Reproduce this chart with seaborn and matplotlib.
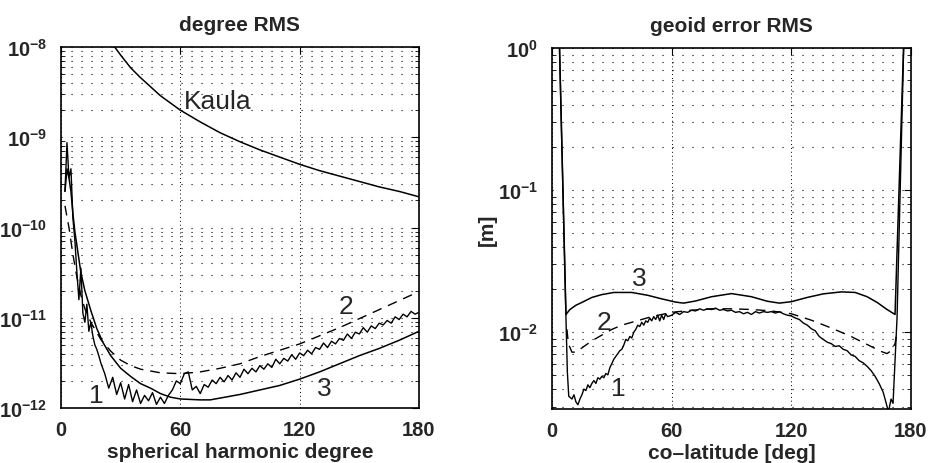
import numpy as np
import pandas as pd
import matplotlib
matplotlib.use("Agg")
import matplotlib.pyplot as plt
import seaborn as sns

# ---------------- left panel: degree RMS (values stored as log10) ----------------
kaula_deg = [26, 30, 35, 40, 50, 60, 70, 80, 90, 100, 110, 120, 130, 140, 150, 160, 170, 180]
kaula_log = [-7.97, -8.09, -8.23, -8.34, -8.54, -8.70, -8.83, -8.95, -9.05, -9.14,
             -9.22, -9.30, -9.37, -9.43, -9.49, -9.55, -9.60, -9.66]

c1_deg = list(range(2, 21)) + list(range(22, 181, 2))
c1_log = [-9.60, -9.06, -9.45, -9.35, -9.90, -10.15, -10.50, -10.80, -10.45, -10.95,
          -11.05, -10.85, -11.15, -11.05, -11.20, -11.30, -11.35, -11.42, -11.50,
          -11.62, -11.78, -11.66, -11.85, -11.72, -11.90, -11.74, -11.93, -11.80, -11.95,
          -11.86, -11.92, -11.83, -11.96, -11.88, -11.95, -11.86, -11.80, -11.70, -11.73,
          -11.62, -11.60, -11.80, -11.76, -11.84, -11.74, -11.77, -11.69, -11.73, -11.66,
          -11.71, -11.64, -11.69, -11.61, -11.66, -11.57, -11.62, -11.56, -11.60, -11.53,
          -11.57, -11.51, -11.55, -11.46, -11.51, -11.45, -11.48, -11.41, -11.46, -11.39,
          -11.42, -11.36, -11.40, -11.33, -11.35, -11.28, -11.33, -11.26, -11.29, -11.23,
          -11.25, -11.18, -11.23, -11.16, -11.18, -11.11, -11.16, -11.09, -11.12, -11.06,
          -11.08, -11.03, -11.06, -10.99, -11.02, -10.96, -10.99, -10.93, -10.96, -10.94]

c2_deg = [2, 4, 6, 8, 10, 12, 15, 20, 25, 30, 35, 40, 50, 60, 70, 80, 90, 100, 110,
          120, 130, 140, 150, 160, 170, 180]
c2_log = [-9.76, -10.00, -10.30, -10.55, -10.75, -10.90, -11.05, -11.24, -11.37, -11.47,
          -11.53, -11.57, -11.61, -11.62, -11.60, -11.56, -11.51, -11.43, -11.36, -11.29,
          -11.20, -11.11, -11.01, -10.91, -10.81, -10.71]

c3_deg = [2, 3, 4, 5, 6, 7, 8, 10, 12, 15, 18, 21, 25, 30, 35, 40, 45, 50, 55, 60, 70,
          75, 80, 90, 100, 110, 120, 130, 140, 150, 160, 170, 180]
c3_log = [-9.60, -9.35, -9.45, -9.60, -9.85, -10.05, -10.20, -10.50, -10.70, -10.92,
          -11.12, -11.27, -11.42, -11.56, -11.65, -11.73, -11.78, -11.84, -11.88, -11.90,
          -11.91, -11.91, -11.89, -11.85, -11.80, -11.75, -11.68, -11.60, -11.51, -11.42,
          -11.34, -11.25, -11.15]

# ---------------- right panel: geoid error RMS (log10 of metres) ----------------
g1_deg = [3.6, 7.0, 7.7, 8.4, 10, 11, 12, 13, 14, 15, 16, 17, 18, 19, 20, 21, 22, 23,
          24, 25, 26, 27, 28, 29, 30, 31, 32, 33, 34, 35, 36, 37, 38, 39, 40, 41, 42, 43,
          44, 45, 46, 47, 48, 49, 50, 51, 52, 53, 54, 55, 56, 57, 58, 60, 62, 64, 66, 68,
          70, 72, 74, 76, 78, 80, 82, 84, 86, 88, 90, 92, 94, 96, 98, 100, 102, 104, 106,
          108, 110, 112, 114, 116, 118, 120, 122, 124, 126, 128, 130, 132, 134, 136, 138,
          140, 142, 144, 146, 148, 150, 152, 154, 156, 158, 160, 162, 164, 166, 167,
          168.7, 170, 171, 172, 173, 176.5]
g1_log = [0.10, -1.90, -2.28, -2.45, -2.47, -2.44, -2.49, -2.51, -2.47, -2.44, -2.40,
          -2.41, -2.37, -2.39, -2.36, -2.34, -2.36, -2.32, -2.33, -2.31, -2.32, -2.29,
          -2.30, -2.25, -2.22, -2.19, -2.17, -2.15, -2.13, -2.12, -2.09, -2.05, -2.06,
          -2.03, -2.04, -2.00, -1.98, -1.95, -1.96, -1.93, -1.95, -1.92, -1.93, -1.90,
          -1.92, -1.89, -1.91, -1.88, -1.92, -1.88, -1.91, -1.87, -1.89, -1.88, -1.86,
          -1.875, -1.855, -1.86, -1.845, -1.85, -1.835, -1.845, -1.835, -1.84, -1.83,
          -1.845, -1.84, -1.85, -1.845, -1.86, -1.855, -1.87, -1.86, -1.875, -1.855,
          -1.865, -1.855, -1.86, -1.855, -1.865, -1.855, -1.87, -1.88, -1.885, -1.90,
          -1.91, -1.935, -1.95, -1.975, -1.99, -2.03, -2.05, -2.07, -2.08, -2.10, -2.095,
          -2.12, -2.13, -2.16, -2.17, -2.20, -2.215, -2.24, -2.27, -2.31, -2.36, -2.42,
          -2.47, -2.56, -2.47, -2.50, -2.20, -1.90, 0.10]

g2_deg = [7.5, 8.2, 10, 12, 16, 20, 25, 30, 35, 40, 50, 60, 70, 80, 90, 100, 110, 120,
          130, 140, 150, 160, 165, 168, 170, 172, 173]
g2_log = [-1.98, -2.08, -2.14, -2.14, -2.10, -2.06, -2.02, -1.98, -1.95, -1.93, -1.89,
          -1.86, -1.845, -1.835, -1.835, -1.84, -1.85, -1.87, -1.915, -1.97, -2.03,
          -2.10, -2.135, -2.15, -2.13, -2.08, -2.00]

g3_deg = [3.6, 7, 9, 12, 15, 20, 25, 31, 40, 48, 55, 62, 66, 72, 80, 90, 100, 108, 114,
          120, 128, 136, 145, 152, 158, 163, 168, 172, 176.5]
g3_log = [0.10, -1.875, -1.84, -1.81, -1.79, -1.755, -1.735, -1.72, -1.72, -1.74,
          -1.765, -1.788, -1.795, -1.78, -1.75, -1.728, -1.75, -1.782, -1.795, -1.785,
          -1.755, -1.73, -1.716, -1.72, -1.75, -1.79, -1.84, -1.875, 0.10]

x_ticks = [0, 60, 120, 180]
x_ticklabels = ["0", "60", "120", "180"]
left_yticks = [1e-12, 1e-11, 1e-10, 1e-9, 1e-8]
left_yticklabels = [r"$10^{-12}$", r"$10^{-11}$", r"$10^{-10}$", r"$10^{-9}$", r"$10^{-8}$"]
right_yticks = [1e-2, 1e-1, 1e0]
right_yticklabels = [r"$10^{-2}$", r"$10^{-1}$", r"$10^{0}$"]

sns.set_style("white")
plt.rcParams["font.family"] = ["Liberation Sans", "DejaVu Sans"]
plt.rcParams["mathtext.fontset"] = "custom"
plt.rcParams["mathtext.rm"] = "Liberation Sans:bold"
plt.rcParams["mathtext.bf"] = "Liberation Sans:bold"
plt.rcParams["mathtext.default"] = "rm"

fig = plt.figure(figsize=(9.29, 4.64), dpi=100)
ax1 = fig.add_axes([61 / 929, 55 / 464, 358 / 929, 361 / 464])
ax2 = fig.add_axes([552 / 929, 54 / 464, 359 / 929, 361 / 464])


def draw(ax, x, ylog, ls="-", lw=1.0):
    df = pd.DataFrame({"x": x, "y": np.power(10.0, np.array(ylog))})
    sns.lineplot(data=df, x="x", y="y", ax=ax, color="black", linewidth=lw,
                 linestyle=ls, sort=False, estimator=None)


dash = (0, (7, 5))
for ax in (ax1, ax2):
    ax.set_yscale("log")

draw(ax1, kaula_deg, kaula_log, lw=1.1)
draw(ax1, c1_deg, c1_log, lw=1.0)
draw(ax1, c2_deg, c2_log, ls=dash, lw=1.0)
draw(ax1, c3_deg, c3_log, lw=1.1)

draw(ax2, g1_deg, g1_log, lw=1.0)
draw(ax2, g2_deg, g2_log, ls=dash, lw=1.0)
draw(ax2, g3_deg, g3_log, lw=1.1)

ax1.set_ylim(1e-12, 1e-8)
ax2.set_ylim(10 ** -2.54, 1.0)

for ax, yt, ytl in ((ax1, left_yticks, left_yticklabels), (ax2, right_yticks, right_yticklabels)):
    ax.set_xlim(0, 180)
    ax.set_xticks(x_ticks)
    ax.set_xticklabels(x_ticklabels, fontweight="bold")
    ax.set_yticks(yt)
    ax.set_yticklabels(ytl)
    ax.yaxis.set_minor_formatter(matplotlib.ticker.NullFormatter())
    ax.tick_params(which="major", direction="in", length=5, width=0.8, top=True, right=True,
                   labelsize=14.5, pad=9, color="black")
    ax.tick_params(axis="y", which="major", pad=10)
    ax.tick_params(which="minor", direction="in", length=3, width=0.6, top=False, right=True,
                   left=True, color="black")
    ax.minorticks_on()
    ax.xaxis.set_minor_locator(matplotlib.ticker.NullLocator())
    ax.grid(True, which="major", axis="x", linestyle=(0, (1, 3)), color="black", linewidth=0.7)
    ax.grid(True, which="both", axis="y", linestyle=(0, (1, 8)), color="black", linewidth=0.8)
    for sp in ax.spines.values():
        sp.set_color("black")
        sp.set_linewidth(1.2)
    ax.set_facecolor("white")

ax1.set_title("degree RMS", fontsize=15, fontweight="bold", pad=12)
ax1.set_xlabel("spherical harmonic degree", fontsize=15, fontweight="bold", labelpad=2)
ax1.set_ylabel("")
ax2.set_title("geoid error RMS", fontsize=15, fontweight="bold", pad=12)
ax2.set_xlabel("co\u2013latitude [deg]", fontsize=15, fontweight="bold", labelpad=2)
ax2.set_ylabel("[m]", fontsize=15, fontweight="bold", labelpad=1)

lab = dict(fontsize=19, ha="center", va="center")
ax1.text(79, 10 ** -8.6, "Kaula", **lab)
ax1.text(143.4, 10 ** -10.87, "2", **lab)
ax1.text(132.2, 10 ** -11.78, "3", **lab)
ax1.text(17.6, 10 ** -11.86, "1", **lab)

ax2.text(44, 10 ** -1.62, "3", **lab)
ax2.text(26, 10 ** -1.926, "2", **lab)
ax2.text(33.3, 10 ** -2.39, "1", **lab)

fig.savefig("out.png", dpi=100, facecolor="white")
